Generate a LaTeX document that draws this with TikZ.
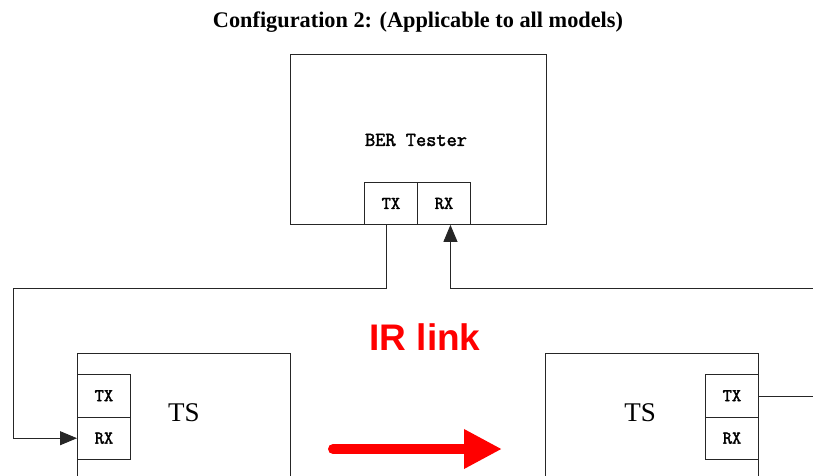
\documentclass[tikz,border=0pt]{standalone}
\usepackage{fontspec}
\setmainfont{Liberation Serif}
\newfontfamily\sansfont{Liberation Sans}
\newfontfamily\monofont[FakeBold=2]{Latin Modern Mono}
\usetikzlibrary{arrows.meta}

\tikzset{
  box/.style={draw=black!85, line width=0.9pt, rectangle, inner sep=0pt, anchor=north west},
  port/.style={box, minimum width=53pt, minimum height=42.5pt,
               font=\monofont\fontsize{18}{20}\selectfont},
  wire/.style={draw=black!85, line width=0.9pt},
  tip/.style={-{Triangle[length=17pt,width=14pt]}},
  irarrow/.style={draw=red, line width=10pt, line cap=round,
                  -{Triangle[length=38pt,width=37pt]}},
}

\begin{document}
\begin{tikzpicture}[x=1pt,y=-1pt]
  \clip (0,0) rectangle (813,475);
  \fill[white] (0,0) rectangle (813,475);

  % heading
  \node[font=\bfseries\fontsize{22.3}{25}\selectfont] (title) at (418,22)
    {Configuration 2: (Applicable to all models)};

  % BER tester with its two ports
  \node[box, minimum width=256pt, minimum height=170pt] (ber) at (290,54) {};
  \node[font=\monofont\fontsize{19.8}{22}\selectfont] (berlabel) at (416,140) {BER Tester};
  \node[port, minimum height=42pt] (btx) at (364,182) {TX};
  \node[port, minimum height=42pt] (brx) at (417,182) {RX};

  % left terminal
  \node[box, minimum width=213pt, minimum height=170pt] (lts) at (77,353) {};
  \node[font=\fontsize{27}{30}\selectfont] (ltslabel) at (184,413) {TS};
  \node[port] (ltx) at (77,374) {TX};
  \node[port] (lrx) at (77,416.5) {RX};

  % right terminal
  \node[box, minimum width=213pt, minimum height=170pt] (rts) at (545,353) {};
  \node[font=\fontsize{27}{30}\selectfont] (rtslabel) at (640,413) {TS};
  \node[port] (rtx) at (705,374) {TX};
  \node[port] (rrx) at (705,416.5) {RX};

  % infrared link between the terminals
  \node[text=red, font=\sansfont\bfseries\fontsize{37}{40}\selectfont] (irlabel) at (425,337) {IR link};
  \coordinate (irstart) at (333,449);
  \coordinate (irend) at (502,449);
  \draw[irarrow] (irstart) -- (irend);

  % wiring
  \coordinate (lc) at (13,288);
  \coordinate (rc) at (830,288);
  \coordinate (re) at (830,396);
  \draw[wire, tip] ([xshift=-4.5pt]btx.south) -- ([xshift=-4.5pt]btx.south |- lc)
        -- (lc) |- (lrx.west);
  \draw[wire, tip] (rc) -| ([xshift=6.5pt]brx.south);
  \draw[wire] (rtx.east |- re) -- (re);
\end{tikzpicture}
\end{document}
